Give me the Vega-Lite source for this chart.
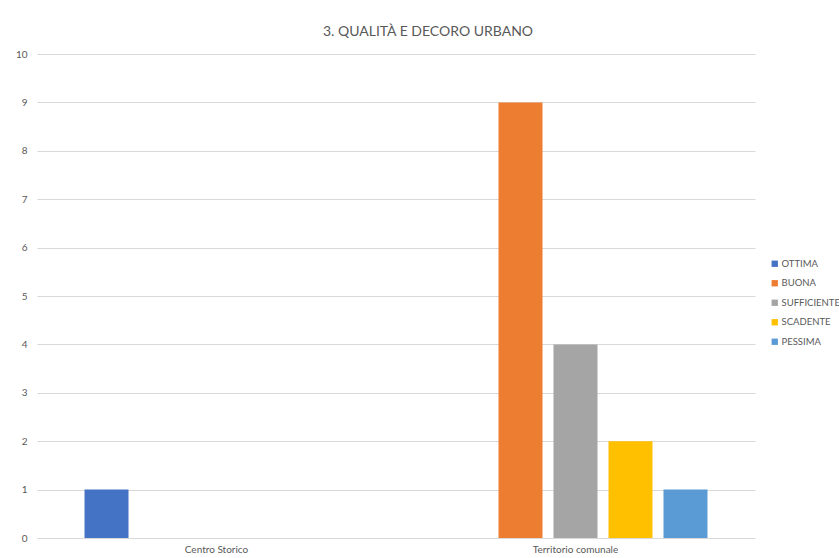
{
  "$schema": "https://vega.github.io/schema/vega-lite/v6.json",
  "autosize": "none",
  "width": 718,
  "height": 484,
  "padding": {"left": 37, "top": 54, "right": 84, "bottom": 20},
  "background": "white",
  "title": {
    "text": "3. QUALITÀ E DECORO URBANO",
    "font": "Lato",
    "fontSize": 14,
    "fontWeight": "normal",
    "color": "#595959",
    "anchor": "middle",
    "dx": 32,
    "offset": 10
  },
  "data": {
    "values": [
      {"area": "Centro Storico", "giudizio": "OTTIMA", "n": 1},
      {"area": "Centro Storico", "giudizio": "BUONA", "n": 0},
      {"area": "Centro Storico", "giudizio": "SUFFICIENTE", "n": 0},
      {"area": "Centro Storico", "giudizio": "SCADENTE", "n": 0},
      {"area": "Centro Storico", "giudizio": "PESSIMA", "n": 0},
      {"area": "Territorio comunale", "giudizio": "OTTIMA", "n": 0},
      {"area": "Territorio comunale", "giudizio": "BUONA", "n": 9},
      {"area": "Territorio comunale", "giudizio": "SUFFICIENTE", "n": 4},
      {"area": "Territorio comunale", "giudizio": "SCADENTE", "n": 2},
      {"area": "Territorio comunale", "giudizio": "PESSIMA", "n": 1}
    ]
  },
  "mark": {"type": "bar"},
  "encoding": {
    "x": {
      "field": "area",
      "type": "nominal",
      "sort": null,
      "scale": {"paddingInner": 0, "paddingOuter": 0},
      "axis": {
        "title": null,
        "labelAngle": 0,
        "domain": false,
        "ticks": false,
        "labelFont": "Lato",
        "labelFontSize": 10,
        "labelColor": "#595959",
        "labelPadding": 6
      }
    },
    "xOffset": {
      "field": "giudizio",
      "type": "nominal",
      "sort": ["OTTIMA", "BUONA", "SUFFICIENTE", "SCADENTE", "PESSIMA"],
      "scale": {"paddingInner": 0.2, "paddingOuter": 0.864}
    },
    "y": {
      "field": "n",
      "type": "quantitative",
      "scale": {"domain": [0, 10]},
      "axis": {
        "title": null,
        "values": [0, 1, 2, 3, 4, 5, 6, 7, 8, 9, 10],
        "domain": false,
        "ticks": false,
        "grid": true,
        "gridColor": "#d9d9d9",
        "gridWidth": 1,
        "labelFont": "Lato",
        "labelFontSize": 10,
        "labelColor": "#595959",
        "labelPadding": 10
      }
    },
    "color": {
      "field": "giudizio",
      "type": "nominal",
      "sort": ["OTTIMA", "BUONA", "SUFFICIENTE", "SCADENTE", "PESSIMA"],
      "scale": {
        "domain": ["OTTIMA", "BUONA", "SUFFICIENTE", "SCADENTE", "PESSIMA"],
        "range": ["#4472C4", "#ED7D31", "#A5A5A5", "#FFC000", "#5B9BD5"]
      },
      "legend": {
        "title": null,
        "orient": "none",
        "legendX": 733,
        "legendY": 205,
        "symbolType": "square",
        "symbolSize": 40,
        "symbolStrokeWidth": 0,
        "labelFont": "Lato",
        "labelFontSize": 9.5,
        "labelColor": "#595959",
        "rowPadding": 8.5,
        "labelOffset": 2
      }
    }
  },
  "config": {
    "view": {"stroke": null}
  }
}
